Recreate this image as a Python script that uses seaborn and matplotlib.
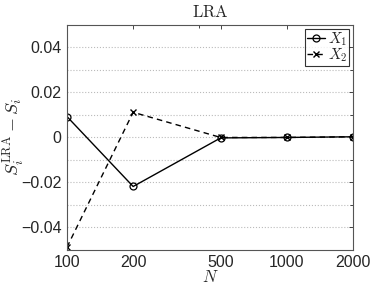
import numpy as np
import pandas as pd
import seaborn as sns
import matplotlib
matplotlib.use("Agg")
import matplotlib.pyplot as plt
from matplotlib.ticker import FixedLocator, NullFormatter

# sample sizes and error of LRA estimate per input
n_values = [100, 200, 500, 1000, 2000]
x1_err = [0.0093, -0.0218, -0.0002, 0.0, 0.0003]
x2_err = [-0.0488, 0.0112, 0.0, 0.0, 0.0003]
series_names = [r'$X_1$', r'$X_2$']

sns.set_style('white')
plt.rcParams['font.family'] = ['Liberation Sans', 'DejaVu Sans']
plt.rcParams['mathtext.fontset'] = 'cm'

fig = plt.figure(figsize=(3.74, 2.84), dpi=100)
ax = fig.add_axes([0.179, 0.12, 0.765, 0.792])

# one call per series, since 'o' and 'x' can't share a style mapping
sns.lineplot(x=n_values, y=x1_err, color='black', linewidth=1.0,
             marker='o', markersize=5, markerfacecolor='none',
             markeredgecolor='black', markeredgewidth=0.9,
             label=series_names[0], ax=ax)
sns.lineplot(x=n_values, y=x2_err, color='black', linewidth=1.0,
             linestyle=(0, (4, 3)), marker='x', markersize=5,
             markeredgecolor='black', markeredgewidth=1.0,
             label=series_names[1], ax=ax)

ax.set_xscale('log')
ax.set_xlim(100, 2000)
ax.set_ylim(-0.05, 0.05)
ax.xaxis.set_major_locator(FixedLocator(n_values))
ax.set_xticklabels([str(n) for n in n_values])
ax.xaxis.set_minor_locator(FixedLocator([400]))
ax.xaxis.set_minor_formatter(NullFormatter())
ax.set_yticks([-0.04, -0.02, 0, 0.02, 0.04])
ax.set_yticklabels(['\u22120.04', '\u22120.02', '0', '0.02', '0.04'])
ax.yaxis.set_minor_locator(FixedLocator([-0.03, -0.01, 0.01, 0.03]))
ax.grid(True, which='both', axis='y', linestyle=':', color='#bbbbbb', linewidth=0.8)
ax.grid(False, axis='x')
ax.tick_params(which='both', direction='in', top=True, right=True,
               labelsize=11.5, length=3, width=0.6, pad=4)
ax.tick_params(which='minor', length=2)
for s in ax.spines.values():
    s.set_color('#555555')
    s.set_linewidth(0.8)

ax.set_xlabel(r'$N$', fontsize=12)
ax.xaxis.set_label_coords(0.5, -0.085)
ax.set_ylabel(r'$S_i^{\mathrm{LRA}} - S_i$', fontsize=13)
ax.yaxis.set_label_coords(-0.14, 0.5)
ax.set_title(r'$\mathrm{LRA}$', fontsize=12, pad=6)

leg = ax.legend(loc='upper right', fontsize=11, handlelength=1.2, handletextpad=0.2,
                borderpad=0.1, labelspacing=-0.1, borderaxespad=0.25,
                frameon=True, fancybox=False, edgecolor='black')
leg.get_frame().set_linewidth(0.8)

fig.savefig('out.png', dpi=100)
